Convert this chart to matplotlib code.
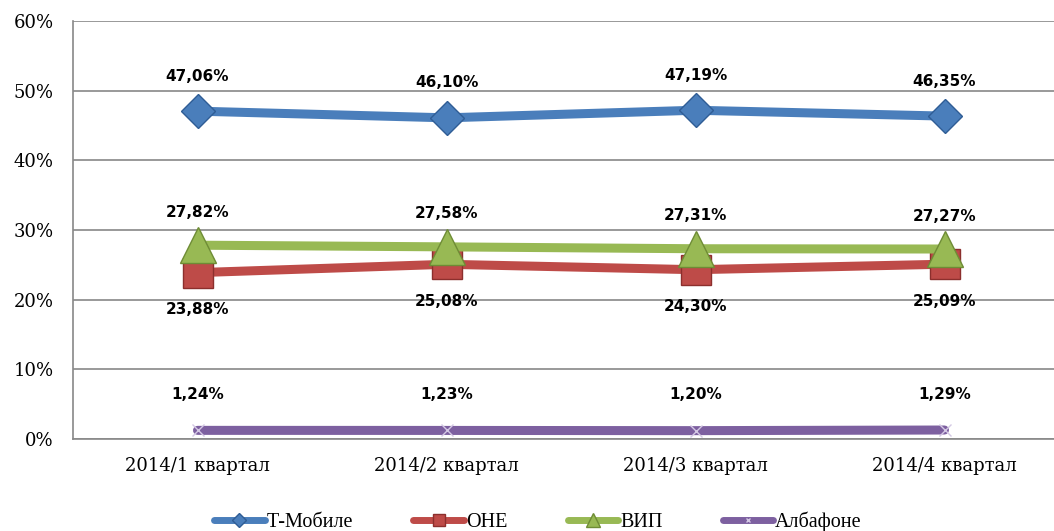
import matplotlib
matplotlib.use("Agg")
import matplotlib.pyplot as plt
from matplotlib.ticker import FuncFormatter

categories = ["2014/1 квартал", "2014/2 квартал", "2014/3 квартал", "2014/4 квартал"]
t_mobile = [47.06, 46.10, 47.19, 46.35]
one = [23.88, 25.08, 24.30, 25.09]
vip = [27.82, 27.58, 27.31, 27.27]
alba = [1.24, 1.23, 1.20, 1.29]
series_names = ["Т-Мобиле", "ОНЕ", "ВИП", "Албафоне"]

fig = plt.figure(figsize=(10.54, 5.31), dpi=100)
ax = fig.add_axes([73/1054, 1-439/531, (1069-73)/1054, (439-21)/531])

x = list(range(len(categories)))
styles = [
    (t_mobile, "#4a7ebb", "D", 17.5, "#2f5d95", 35),
    (one, "#be4b48", "s", 22, "#8c2f2d", -37),
    (vip, "#98b954", "^", 26, "#6e8c35", 33),
    (alba, "#7d60a0", "x", 8, "#d4c8e4", 36),
]
handles = []
for (vals, col, mk, ms, mec, off), name in zip(styles, series_names):
    h, = ax.plot(x, vals, color=col, lw=6.5, marker=mk, ms=ms,
                 mfc=col if mk != "x" else "none", mec=mec, mew=1.0,
                 solid_capstyle="round", label=name, zorder=3)
    handles.append(h)
    for xi, v in zip(x, vals):
        ax.annotate(f"{v:.2f}%".replace(".", ","), (xi, v), xytext=(0, off),
                    textcoords="offset pixels", ha="center", va="center",
                    fontsize=11, fontweight="bold", family="DejaVu Sans", zorder=5)

ax.set_xlim(-0.5, 3.5)
ax.set_ylim(0, 60)
ax.set_yticks(range(0, 61, 10))
ax.yaxis.set_major_formatter(FuncFormatter(lambda v, p: f"{int(v)}%"))
ax.set_xticks(x)
ax.set_xticklabels(categories)
for lab in ax.get_xticklabels() + ax.get_yticklabels():
    lab.set_family("DejaVu Serif")
    lab.set_fontsize(13)
ax.tick_params(axis="both", length=0)
ax.tick_params(axis="x", pad=13)
ax.tick_params(axis="y", pad=14)
ax.grid(axis="y", color="#888888", lw=1.2, zorder=0)
for s in ["top", "right"]:
    ax.spines[s].set_visible(False)
ax.spines["left"].set_color("#888888")
ax.spines["bottom"].set_color("#888888")
ax.spines["left"].set_linewidth(1.2)
ax.spines["bottom"].set_linewidth(1.2)

leg = fig.legend(handles=handles, loc="center", bbox_to_anchor=(538/1054, 1-522/531),
                 ncol=4, frameon=False, handlelength=2.5, columnspacing=3.0,
                 handletextpad=0.1, prop={"family": "Liberation Serif", "size": 14.5},
                 markerscale=0.4)
for lh in leg.get_lines():
    lh.set_linewidth(5)
fig.savefig("out.png", dpi=100)
